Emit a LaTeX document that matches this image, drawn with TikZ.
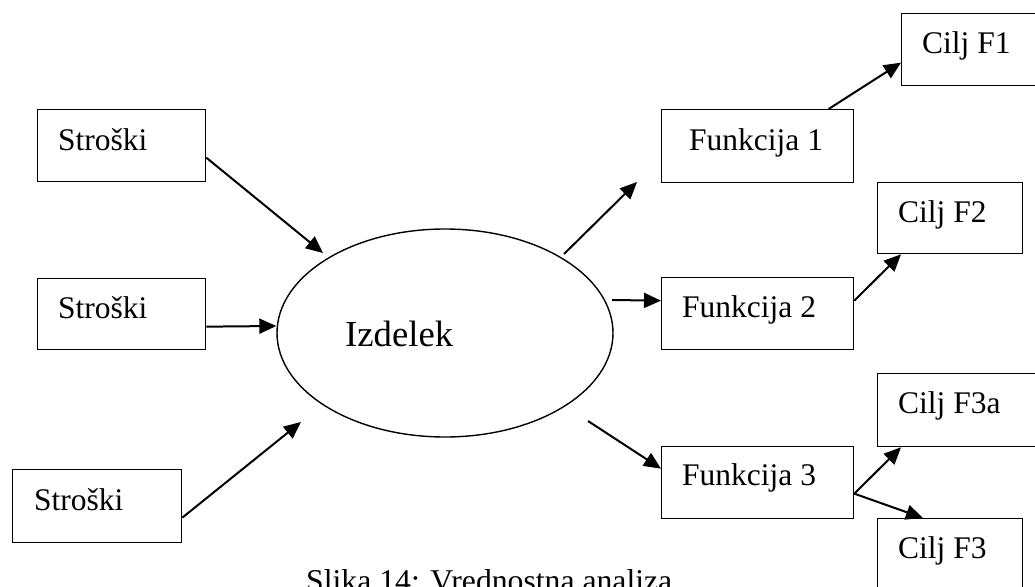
\documentclass[tikz,border=0pt]{standalone}
\usepackage{fontspec}
\setmainfont{Liberation Serif}
\usetikzlibrary{arrows.meta,shapes.geometric}

\tikzset{
  box/.style={draw, line width=1.3pt, rectangle, inner sep=0pt, anchor=north west},
  txt/.style={inner sep=0pt, anchor=base west, font=\fontsize{31.5}{38}\selectfont},
  arr/.style={line width=2pt, -{Triangle[length=17pt,width=15pt]}},
}

\begin{document}
\begin{tikzpicture}[x=1pt,y=-1pt]
  \clip (0,0) rectangle (1035,586);
  \useasboundingbox (0,0) rectangle (1035,586);
  \fill[white] (0,0) rectangle (1035,586);

  % cost boxes
  \node[box, minimum width=168pt, minimum height=72pt] (s1) at (37,109) {};
  \node[txt] (s1t) at (58,150) {Stroški};
  \node[box, minimum width=168pt, minimum height=71pt] (s2) at (37,278) {};
  \node[txt] (s2t) at (58,318) {Stroški};
  \node[box, minimum width=169pt, minimum height=73pt] (s3) at (12,469) {};
  \node[txt] (s3t) at (34,510) {Stroški};

  % product
  \node[draw, line width=1.4pt, ellipse, minimum width=336pt, minimum height=208pt, inner sep=0pt] (izd) at (445,333) {};
  \node[inner sep=0pt, anchor=base west, font=\fontsize{36.7}{44}\selectfont] (izdt) at (345,346) {Izdelek};

  % functions
  \node[box, minimum width=192pt, minimum height=73pt] (f1) at (661,109) {};
  \node[txt] (f1t) at (689,150) {Funkcija 1};
  \node[box, minimum width=192pt, minimum height=72pt] (f2) at (661,277) {};
  \node[txt] (f2t) at (682,317) {Funkcija 2};
  \node[box, minimum width=192pt, minimum height=72pt] (f3) at (661,446) {};
  \node[txt] (f3t) at (682,485) {Funkcija 3};

  % goals
  \node[box, minimum width=150pt, minimum height=72pt] (c1) at (901,13) {};
  \node[txt] (c1t) at (922,54) {Cilj F1};
  \node[box, minimum width=145pt, minimum height=71pt] (c2) at (877,182) {};
  \node[txt] (c2t) at (898,222) {Cilj F2};
  \node[box, minimum width=165pt, minimum height=73pt] (c3a) at (877,373) {};
  \node[txt] (c3at) at (898,413) {Cilj F3a};
  \node[box, minimum width=145pt, minimum height=80pt] (c3) at (877,518) {};
  \node[txt] (c3t) at (898,558) {Cilj F3};

  % caption
  \node[txt, font=\fontsize{31.7}{38}\selectfont] (cap) at (306,591) {Slika 14: Vrednostna analiza};

  % free arrow ends
  \coordinate (e1) at (323,253);
  \coordinate (e3) at (301,422);
  \coordinate (o1) at (564,254);
  \coordinate (t1) at (637,182);
  \coordinate (o2) at (612,300);
  \coordinate (o3) at (588,421);

  % connectors
  \draw[arr] ([yshift=-12pt]s1.east) -- (e1);
  \draw[arr] ([yshift=-12.5pt]s2.east) -- ([yshift=7pt]izd.west);
  \draw[arr] ([yshift=-11.5pt]s3.east) -- (e3);
  \draw[arr] (o1) -- (t1);
  \draw[arr] (o2) -- ([yshift=13pt]f2.west);
  \draw[arr] (o3) -- ([yshift=14pt]f3.west);
  \draw[arr] ([xshift=71pt]f1.north) -- ([yshift=-13pt]c1.west);
  \draw[arr] ([yshift=13pt]f2.east) -- ([xshift=24pt]c2.south west);
  \draw[arr] ([yshift=-11pt]f3.east) -- ([xshift=24pt]c3a.south west);
  \draw[arr] ([yshift=-11pt]f3.east) -- ([xshift=46pt]c3.north west);
\end{tikzpicture}
\end{document}
